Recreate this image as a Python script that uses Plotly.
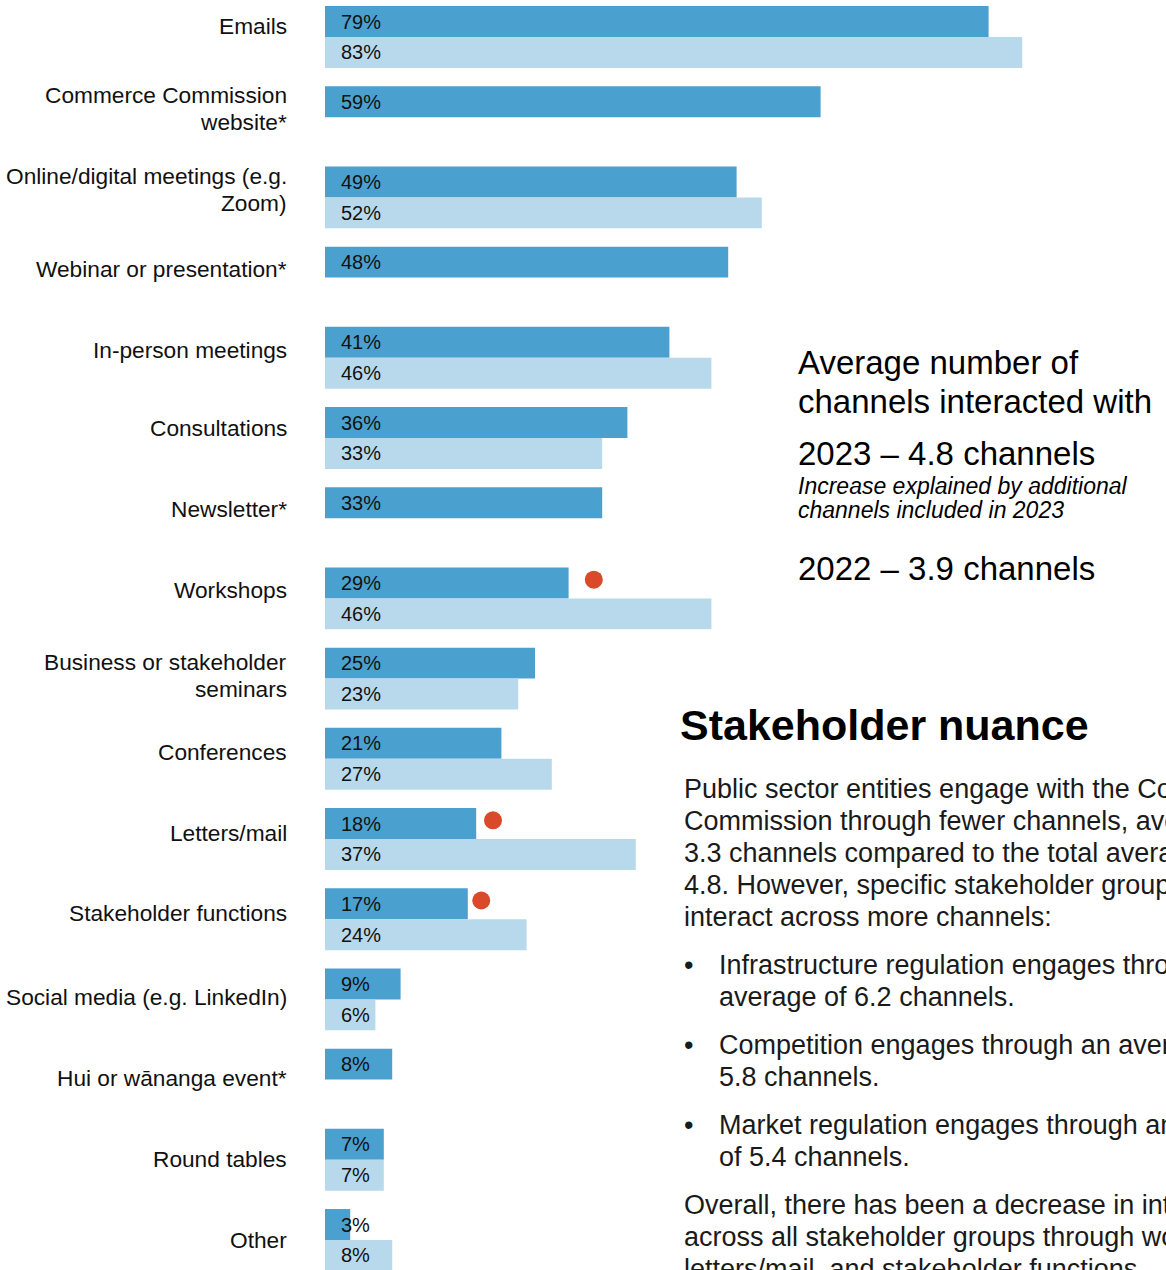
import plotly.graph_objects as go

# --- data -------------------------------------------------------------
channels = [
    "Emails",
    "Commerce Commission<br>website*",
    "Online/digital meetings (e.g.<br>Zoom)",
    "Webinar or presentation*",
    "In-person meetings",
    "Consultations",
    "Newsletter*",
    "Workshops",
    "Business or stakeholder<br>seminars",
    "Conferences",
    "Letters/mail",
    "Stakeholder functions",
    "Social media (e.g. LinkedIn)",
    "Hui or wānanga event*",
    "Round tables",
    "Other",
]
share_2023 = [79, 59, 49, 48, 41, 36, 33, 29, 25, 21, 18, 17, 9, 8, 7, 3]
share_2022 = [83, None, 52, None, 46, 33, None, 46, 23, 27, 37, 24, 6, None, 7, 8]
# channels with a notable drop since 2022
flagged = ["Workshops", "Letters/mail", "Stakeholder functions"]

# --- styling ----------------------------------------------------------
W, H = 1166, 1270
DARK = "#4aa0cf"
LIGHT = "#b8d9ec"
FLAG = "#d9492a"
INK = "#111111"
FONT = "Liberation Sans, Arial, sans-serif"

PX_PER_PCT = 8.4          # horizontal scale
BAR_LEFT_PX = 325         # where 0 % sits
ROW_PX = 80.2             # distance between channel groups
FIRST_ROW_PX = 37         # centre of the first group
BAR_H = 0.386             # bar thickness in row units
OFF = 0.193               # half distance between the paired bars
flag_gap = {"Workshops": 3.0, "Letters/mail": 2.0, "Stakeholder functions": 1.6}

n = len(channels)
idx = list(range(n))

fig = go.Figure()
fig.add_trace(go.Bar(
    orientation="h", name="2023",
    x=share_2023, y=[i - OFF for i in idx], width=BAR_H,
    marker=dict(color=DARK, line=dict(width=0)), hoverinfo="skip",
))
fig.add_trace(go.Bar(
    orientation="h", name="2022",
    x=share_2022, y=[i + OFF for i in idx], width=BAR_H,
    marker=dict(color=LIGHT, line=dict(width=0)), hoverinfo="skip",
))

# red flags beside the 2023 bar
fx, fy = [], []
for name in flagged:
    k = channels.index(name)
    fx.append(share_2023[k] + flag_gap[name])
    fy.append(k - OFF - 0.04)
fig.add_trace(go.Scatter(
    x=fx, y=fy, mode="markers",
    marker=dict(color=FLAG, size=18, line=dict(width=0)), hoverinfo="skip",
))

annotations = []

# value labels inside the bars
for i in idx:
    for vals, off in ((share_2023, -OFF), (share_2022, OFF)):
        v = vals[i]
        if v is None:
            continue
        annotations.append(dict(
            x=0, y=i + off, xref="x", yref="y", text=f"{v}%",
            xanchor="left", yanchor="middle", xshift=14, showarrow=False,
            font=dict(family=FONT, size=20, color=INK),
        ))

# channel names, right aligned left of the bars
for i, name in enumerate(channels):
    lines = name.split("<br>")
    base = 11 - 0.75 * i
    if len(lines) > 1:
        base -= 2
    elif 5 <= i <= 11:
        base += 3
    for j, line in enumerate(lines):
        shift = base + (len(lines) - 1) * 13.5 - j * 27
        annotations.append(dict(
            x=289 / W, y=i, xref="paper", yref="y", text=line,
            xanchor="right", yanchor="middle", yshift=shift, showarrow=False,
            font=dict(family=FONT, size=22.7, color=INK),
        ))


def py(p):
    return 1 - p / H


def text_line(x_px, y_px, text, size, **kw):
    annotations.append(dict(
        x=x_px / W, y=py(y_px), xref="paper", yref="paper", text=text,
        xanchor="left", yanchor="middle", showarrow=False,
        font=dict(family=FONT, size=size, color=kw.pop("color", "#000000")),
        **kw,
    ))


# averages panel
text_line(796, 362, "Average number of", 33)
text_line(796, 402, "channels interacted with", 33)
text_line(796, 453, "2023 – 4.8 channels", 33)
text_line(796, 486, "<i>Increase explained by additional</i>", 23)
text_line(796, 510, "<i>channels included in 2023</i>", 23)
text_line(796, 568, "2022 – 3.9 channels", 33)

# commentary
text_line(678, 725, "<b>Stakeholder nuance</b>", 43)
body = [
    (789, "Public sector entities engage with the Commerce"),
    (821, "Commission through fewer channels, averaging"),
    (853, "3.3 channels compared to the total average of"),
    (885, "4.8. However, specific stakeholder groups"),
    (917, "interact across more channels:"),
]
for y, t in body:
    text_line(682, y, t, 27, color="#1a1a1a")
bullets = [
    (965, ["Infrastructure regulation engages through an", "average of 6.2 channels."]),
    (1045, ["Competition engages through an average of", "5.8 channels."]),
    (1125, ["Market regulation engages through an average", "of 5.4 channels."]),
]
for y, pair in bullets:
    text_line(682, y, "•", 27, color="#1a1a1a")
    for j, t in enumerate(pair):
        text_line(717, y + 32 * j, t, 27, color="#1a1a1a")
closing = [
    (1205, "Overall, there has been a decrease in interaction"),
    (1237, "across all stakeholder groups through workshops,"),
    (1269, "letters/mail, and stakeholder functions."),
]
for y, t in closing:
    text_line(682, y, t, 27, color="#1a1a1a")

x_lo = -BAR_LEFT_PX / PX_PER_PCT
x_hi = (W - BAR_LEFT_PX) / PX_PER_PCT
y_top = -FIRST_ROW_PX / ROW_PX
y_bot = (H - FIRST_ROW_PX) / ROW_PX

fig.update_layout(
    width=W, height=H,
    margin=dict(l=0, r=0, t=0, b=0),
    paper_bgcolor="white", plot_bgcolor="white",
    barmode="overlay", showlegend=False,
    xaxis=dict(range=[x_lo, x_hi], visible=False, fixedrange=True),
    yaxis=dict(range=[y_bot, y_top], visible=False, fixedrange=True),
    annotations=annotations,
)

fig.write_html("out.html", config={"displayModeBar": False})
